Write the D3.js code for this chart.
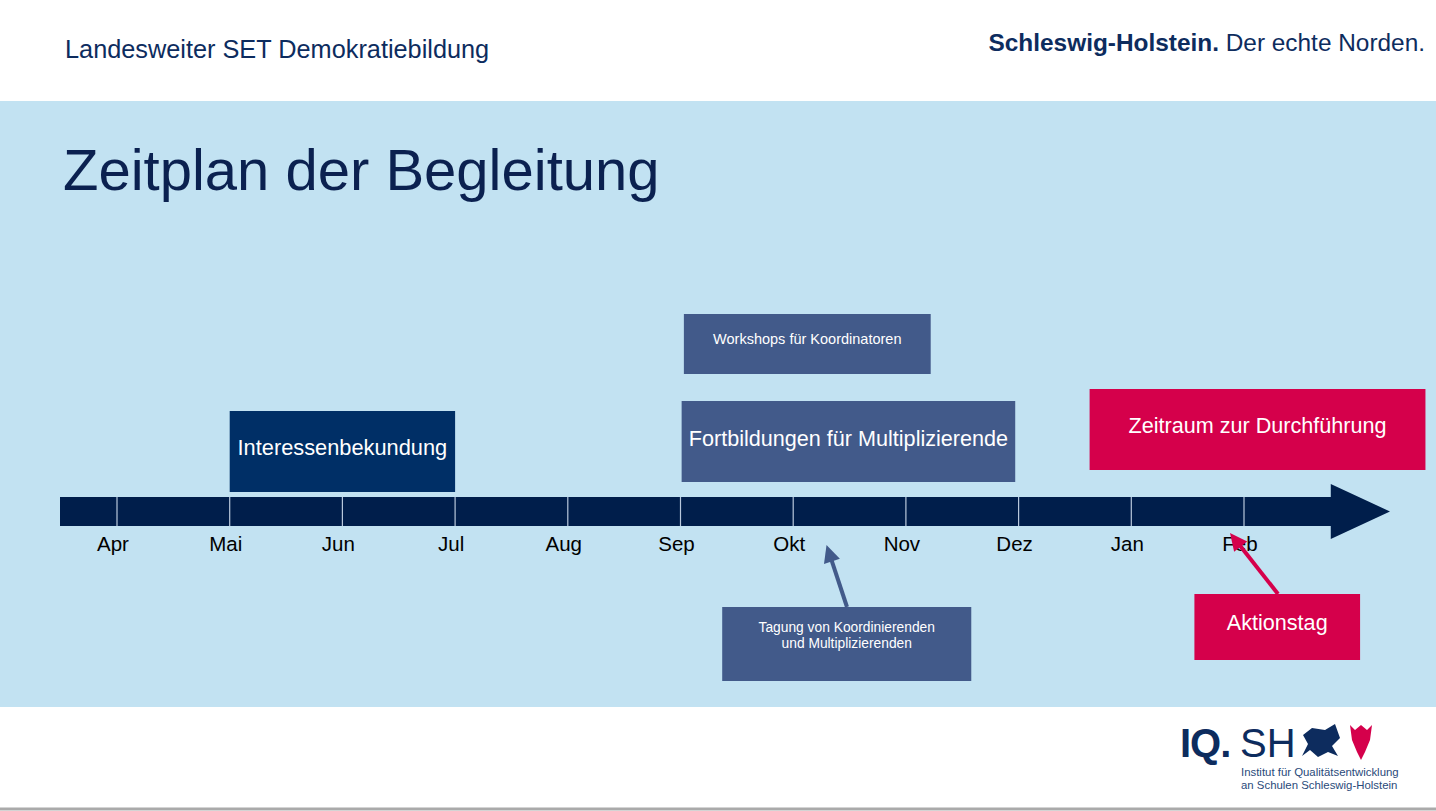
<!DOCTYPE html>
<html><head><meta charset="utf-8">
<script src="https://cdn.jsdelivr.net/npm/d3@7"></script>
<style>body{margin:0;background:#fff;font-family:Arial,"Liberation Sans",sans-serif}</style>
</head><body><svg id="c" width="1436" height="811"></svg>
<script>
const months = ["Apr","Mai","Jun","Jul","Aug","Sep","Okt","Nov","Dez","Jan","Feb"];
const phases = ["Interessenbekundung","Fortbildungen für Multiplizierende","Workshops für Koordinatoren","Zeitraum zur Durchführung","Tagung von Koordinierenden|und Multiplizierenden","Aktionstag"];
const phaseStart = [1.0, 5.01, 5.03, 8.63, 5.37, 9.56];
const phaseEnd   = [3.0, 7.97, 7.22, 11.61, 7.58, 11.03];
const pointerAt  = [null,null,null,null,6.34,10.0];

const svg = d3.select("#c");
const x = d3.scaleLinear().domain([0,10]).range([117,1244]);
svg.append("rect").attr("x",0).attr("y",0).attr("width",1436).attr("height",811).attr("fill","#fff");
svg.append("rect").attr("x",0).attr("y",101).attr("width",1436).attr("height",606).attr("fill","#c2e2f2");
svg.append("line").attr("x1",0).attr("x2",1436).attr("y1",809).attr("y2",809).attr("stroke","#aaa").attr("stroke-width",3);
svg.append("text").attr("x",65).attr("y",58).attr("font-size",25.3).attr("fill","#0d2c5e").text("Landesweiter SET Demokratiebildung");
const hd=svg.append("text").attr("x",1425).attr("y",51).attr("text-anchor","end").attr("font-size",24.4).attr("fill","#0d2c5e");
hd.append("tspan").attr("font-weight","bold").text("Schleswig-Holstein.");
hd.append("tspan").text(" Der echte Norden.");
svg.append("text").attr("x",63).attr("y",190).attr("font-size",58).attr("fill","#0b2150").text("Zeitplan der Begleitung");

svg.append("path").attr("d",`M60,497 H${x(10.77)} V484 L1390,511.5 L${x(10.77)},539 V526 H60 Z`).attr("fill","#001e4b");
svg.selectAll(".tk").data(months).join("line").attr("x1",(d,i)=>x(i)).attr("x2",(d,i)=>x(i)).attr("y1",497).attr("y2",526).attr("stroke","#b8c8dc").attr("stroke-width",1.2);
svg.selectAll(".ml").data(months).join("text").attr("x",(d,i)=>x(i)-4).attr("y",551).attr("text-anchor","middle").attr("font-size",20.5).attr("fill","#000").text(d=>d);

const rowsY=[411,401,314,389,607,594], rowsH=[81,81,60,81,74,66];
const fills=["#002f66","#425a8a","#425a8a","#d5004b","#425a8a","#d5004b"];
const fsz=[21.8,21.6,14.5,21.6,13.8,21.6];
const dy=[-4,-3,-5,-4,-9,-5];
[4,5].forEach(i=>{
  const col=fills[i];
  const x1=i==4?847:1278, y1=rowsY[i];
  const x2=x(pointerAt[i])+ (i==4?-5:-14), y2= i==4?545:533;
  const ang=Math.atan2(y2-y1,x2-x1), L=16;
  svg.append("line").attr("x1",x1).attr("y1",y1).attr("x2",x2-Math.cos(ang)*L).attr("y2",y2-Math.sin(ang)*L).attr("stroke",col).attr("stroke-width",4);
  const p=(a)=>[x2-Math.cos(ang+a)*L*1.2, y2-Math.sin(ang+a)*L*1.2];
  svg.append("path").attr("d",`M${x2},${y2} L${p(0.45)} L${p(-0.45)} Z`).attr("fill",col);
});
phases.forEach((t,i)=>{
  const x0=x(phaseStart[i]), x1=x(phaseEnd[i]);
  svg.append("rect").attr("x",x0).attr("y",rowsY[i]).attr("width",x1-x0).attr("height",rowsH[i]).attr("fill",fills[i]);
  const lines=t.split("|");
  const tx=svg.append("text").attr("x",(x0+x1)/2).attr("text-anchor","middle").attr("font-size",fsz[i]).attr("fill","#fff");
  const cy=rowsY[i]+rowsH[i]/2 + dy[i];
  lines.forEach((l,j)=>tx.append("tspan").attr("x",(x0+x1)/2).attr("y",cy+fsz[i]*0.35+(j-(lines.length-1)/2)*fsz[i]*1.15).text(l));
});
// logo
svg.append("text").attr("x",1180).attr("y",757).attr("font-size",40).attr("fill","#0d2c5e").attr("font-weight","bold").attr("letter-spacing",-1).text("IQ.");
svg.append("text").attr("x",1240).attr("y",757).attr("font-size",40).attr("fill","#0d2c5e").text("SH");
svg.append("path").attr("d","M1303,735 L1312,728 L1325,730 L1335,724 L1340,738 L1332,746 L1338,756 L1328,752 L1318,757 L1310,750 L1302,756 L1308,744 Z").attr("fill","#0d2c5e");
svg.append("path").attr("d","M1350,725 L1355,730 L1361,725 L1367,730 L1372,725 L1370,740 L1365,752 L1361,760 L1357,752 L1352,740 Z").attr("fill","#d5004b");
svg.append("text").attr("x",1241).attr("y",776).attr("font-size",11.4).attr("fill","#2a4a7a").text("Institut für Qualitätsentwicklung");
svg.append("text").attr("x",1241).attr("y",789).attr("font-size",11.4).attr("fill","#2a4a7a").text("an Schulen Schleswig-Holstein");
</script></body></html>
